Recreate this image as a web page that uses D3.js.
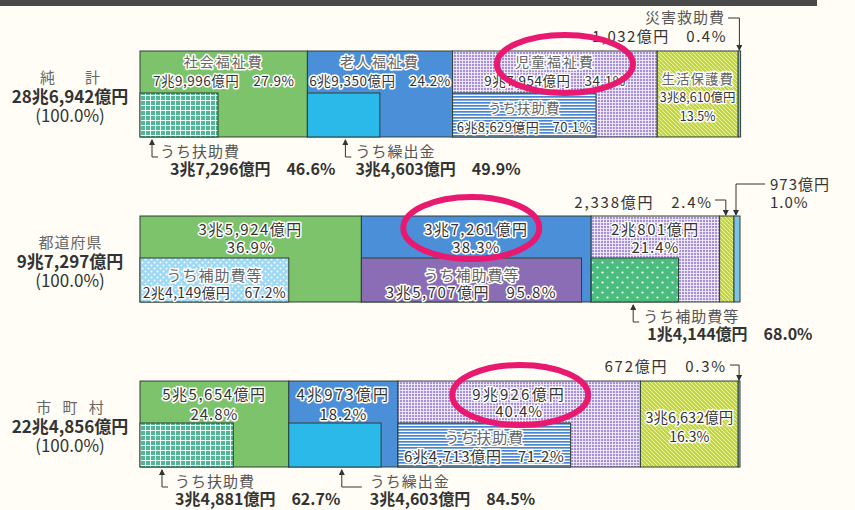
<!DOCTYPE html>
<html lang="ja">
<head>
<meta charset="utf-8">
<style>
  html, body { margin: 0; padding: 0; background: #fffdf5; }
  svg { display: block; }
  text { font-family: "Noto Sans CJK JP", "Noto Sans", sans-serif; }
  .halo { stroke: #fff; stroke-width: 3px; stroke-linejoin: round; paint-order: stroke; }
</style>
</head>
<body>
<svg id="chart" width="855" height="510"></svg>
<script src="https://cdn.jsdelivr.net/npm/d3@7/dist/d3.min.js"></script>
<script>
// --- data ---
const areaNames = ["純　　計", "都道府県", "市 町 村"]
const areaTotals = ["28兆6,942億円", "9兆7,297億円", "22兆4,856億円"]
const categories = ["社会福祉費", "老人福祉費", "児童福祉費", "生活保護費", "災害救助費"]
const sharePct = [
  [27.9, 24.2, 34.1, 13.5, 0.4],
  [36.9, 38.3, 21.4, 2.4, 1.0],
  [24.8, 18.2, 40.4, 16.3, 0.3]
]
const amounts = [
  ["7兆9,996億円", "6兆9,350億円", "9兆7,954億円", "3兆8,610億円", "1,032億円"],
  ["3兆5,924億円", "3兆7,261億円", "2兆801億円", "2,338億円", "973億円"],
  ["5兆5,654億円", "4兆973億円", "9兆926億円", "3兆6,632億円", "672億円"]
]
const subNames = [
  ["うち扶助費", "うち繰出金", "うち扶助費"],
  ["うち補助費等", "うち補助費等", "うち補助費等"],
  ["うち扶助費", "うち繰出金", "うち扶助費"]
]
const subPct = [
  [46.6, 49.9, 70.1],
  [67.2, 95.8, 68.0],
  [62.7, 84.5, 71.2]
]
const subAmounts = [
  ["3兆7,296億円", "3兆4,603億円", "6兆8,629億円"],
  ["2兆4,149億円", "3兆5,707億円", "1兆4,144億円"],
  ["3兆4,881億円", "3兆4,603億円", "6兆4,713億円"]
]
const fmtPct = d => d.toFixed(1) + "%"

// --- styles ---
const catFill = ["#7cc36b", "#4a8fd8", "url(#lavGrid)", "url(#yellowHatch)", "#7cc4e6"]
const subFill = [
  ["url(#tealGrid)", "#2bb9e9", "url(#blueStripe)"],
  ["url(#blueDots)", "#8a6db5", "url(#greenDots)"],
  ["url(#tealGrid)", "#2bb9e9", "url(#blueStripe)"]
]
const edge = "#2e4036"

const svg = d3.select("#chart")
const defs = svg.append("defs")

function pattern (id, w, h, bg, draw) {
  const p = defs.append("pattern")
    .attr("id", id)
    .attr("patternUnits", "userSpaceOnUse")
    .attr("width", w)
    .attr("height", h)
  p.append("rect").attr("width", w).attr("height", h).attr("fill", bg)
  draw(p)
}
pattern("tealGrid", 5, 5, "#52b596", p => p.append("path")
  .attr("d", "M0,0.5H5M0.5,0V5").attr("stroke", "#eafff8").attr("stroke-width", 1))
pattern("lavGrid", 3, 3, "#a98fd8", p => p.append("path")
  .attr("d", "M0,0.5H3M0.5,0V3").attr("stroke", "#f1ecfa").attr("stroke-width", 0.9))
pattern("blueStripe", 3, 3, "#ffffff", p => p.append("rect")
  .attr("width", 3).attr("height", 1.7).attr("fill", "#4a86cf"))
pattern("yellowHatch", 4, 4, "#c2d835", p => p.append("path")
  .attr("d", "M-1,-1L5,5M-1,3L1,5M3,-1L5,1").attr("stroke", "#eaf3a8").attr("stroke-width", 1))
pattern("blueDots", 6, 6, "#9fd8f4", p => {
  p.append("circle").attr("cx", 1.5).attr("cy", 1.5).attr("r", 1).attr("fill", "#fff")
  p.append("circle").attr("cx", 4.5).attr("cy", 4.5).attr("r", 1).attr("fill", "#fff")
})
pattern("greenDots", 10, 10, "#4bbd7e", p => {
  p.append("circle").attr("cx", 2.5).attr("cy", 2.5).attr("r", 1.1).attr("fill", "#fff")
  p.append("circle").attr("cx", 7.5).attr("cy", 7.5).attr("r", 1.1).attr("fill", "#fff")
})

defs.append("marker")
  .attr("id", "arrow")
  .attr("markerUnits", "userSpaceOnUse")
  .attr("markerWidth", 6).attr("markerHeight", 6)
  .attr("refX", 5).attr("refY", 3)
  .attr("orient", "auto")
  .append("path").attr("d", "M0,0L6,3L0,6Z").attr("fill", "#333")

// top rule
svg.append("rect").attr("x", 0).attr("y", 0).attr("width", 817).attr("height", 6).attr("fill", "#484848")

const x = d3.scaleLinear().domain([0, 100]).range([140, 740])
const y = d3.scaleBand().domain(areaNames).range([51, 467]).paddingInner(0.479)
const topH = 42

function txt (sel, tx, ty, s, o = {}) {
  return sel.append("text")
    .attr("x", tx).attr("y", ty).attr("dy", "0.35em")
    .attr("text-anchor", o.anchor || "middle")
    .attr("font-size", o.size || 13)
    .attr("font-weight", o.weight || "normal")
    .attr("letter-spacing", o.ls || 0)
    .attr("fill", o.fill || "#333")
    .attr("class", o.halo === false ? null : "halo")
    .text(s)
}

function line (sel, d) {
  return sel.append("path").attr("d", d).attr("fill", "none")
    .attr("stroke", "#333").attr("stroke-width", 1).attr("marker-end", "url(#arrow)")
}

// where each row puts its labels (layout only)
const below = [
  { 0: { ax: 12, hx: 6, tx: 20, ax2: 30 }, 1: { ax: 38, hx: 6, tx: 48, ax2: 48 } },
  { 2: { ax: 42, hx: 6, tx: 52, ax2: 56 } },
  { 0: { ax: 22, hx: 6, tx: 35, ax2: 35 }, 1: { ax: 53, hx: 20, tx: 81, ax2: 81 } }
]
const nameSpacing = [0, 1, 4]
const ringOff = [[10, 13], [-5, 12], [1, 14]]
const ringR = [[68, 29], [68, 31], [68, 30]]

areaNames.forEach((area, i) => {
  const g = svg.append("g")
  const y0 = y(area)
  const h = y.bandwidth()
  const shares = sharePct[i]
  const starts = shares.map((d, k) => d3.sum(shares.slice(0, k)))
  const segs = shares.map((d, k) => ({ k, s: starts[k], e: starts[k] + d, v: d }))

  // left labels
  txt(g, 70 + nameSpacing[i] / 2, y0 + 27, area, { size: 15, ls: nameSpacing[i], fill: "#666", halo: false })
  txt(g, 70, y0 + 46, areaTotals[i], { size: 17, weight: "bold", fill: "#333", halo: false })
  txt(g, 70, y0 + 65, "(100.0%)", { size: 17, fill: "#333", halo: false })

  g.selectAll("rect.seg").data(segs).join("rect")
    .attr("class", "seg")
    .attr("x", d => x(d.s))
    .attr("y", y0)
    .attr("width", d => x(d.e) - x(d.s))
    .attr("height", h)
    .attr("fill", d => catFill[d.k])
    .attr("stroke", edge).attr("stroke-width", 1)

  const subs = subPct[i].map((p, k) => ({ k, s: starts[k], e: starts[k] + shares[k] * p / 100, p }))
  g.selectAll("rect.sub").data(subs).join("rect")
    .attr("class", "sub")
    .attr("x", d => x(d.s))
    .attr("y", y0 + topH)
    .attr("width", d => x(d.e) - x(d.s))
    .attr("height", h - topH)
    .attr("fill", d => subFill[i][d.k])
    .attr("stroke", edge).attr("stroke-width", 1)

  const cx = k => (x(segs[k].s) + x(segs[k].e)) / 2
  const sx = k => (x(subs[k].s) + x(subs[k].e)) / 2
  const x4 = cx(4)

  if (i === 0) {
    for (let k = 0; k < 3; k++) {
      txt(g, cx(k), y0 + 11, categories[k], { size: 14, ls: 2, fill: "#666" })
      txt(g, cx(k), y0 + 30, amounts[i][k] + "　" + fmtPct(shares[k]), { size: 13.5, ls: 0.5 })
    }
    txt(g, cx(3), y0 + 28, categories[3], { size: 13.5, ls: 1, fill: "#666" })
    txt(g, cx(3), y0 + 47, amounts[i][3], { size: 12.5 })
    txt(g, cx(3), y0 + 66, fmtPct(shares[3]), { size: 12.5 })
    txt(g, 725, y0 - 33, categories[4] + " ", { size: 15, ls: 1, fill: "#555", anchor: "end", halo: false })
    txt(g, 727, y0 - 14, amounts[i][4] + "　" + fmtPct(shares[4]), { size: 15, ls: 1.5, anchor: "end", halo: false })
    line(g, `M728,${y0 - 33}H${x4}V${y0 - 1}`)
    txt(g, sx(2), y0 + 57, subNames[i][2], { size: 13.5, ls: 1, fill: "#666" })
    txt(g, sx(2), y0 + 76, subAmounts[i][2] + "　" + fmtPct(subPct[i][2]), { size: 13, ls: 0.4 })
  } else if (i === 1) {
    for (let k = 0; k < 3; k++) {
      txt(g, cx(k), y0 + 14, amounts[i][k], { size: 15, ls: 1.5 })
      txt(g, cx(k), y0 + 32, fmtPct(shares[k]), { size: 15, ls: 1 })
    }
    txt(g, 713, y0 - 13, amounts[i][3] + "　" + fmtPct(shares[3]), { size: 15, ls: 1.8, anchor: "end", halo: false })
    line(g, `M715,${y0 - 16}H${cx(3) - 1}V${y0 - 1}`)
    txt(g, 770, y0 - 31, amounts[i][4], { size: 15, ls: 1, anchor: "start", halo: false })
    txt(g, 770, y0 - 13, fmtPct(shares[4]), { size: 15, ls: 1, anchor: "start", halo: false })
    g.append("path").attr("d", `M765,${y0 - 32}H${x4 - 1}V${y0 - 1}`).attr("fill", "none")
      .attr("stroke", "#333").attr("marker-end", "url(#arrow)")
    for (let k = 0; k < 2; k++) {
      txt(g, sx(k), y0 + 60, subNames[i][k], { size: 15, ls: 1, fill: "#666" })
      txt(g, sx(k), y0 + 77, subAmounts[i][k] + "　" + fmtPct(subPct[i][k]),
        { size: k === 0 ? 14 : 15, ls: k === 0 ? 0.3 : 1.5 })
    }
  } else {
    for (let k = 0; k < 3; k++) {
      txt(g, cx(k), y0 + 14, amounts[i][k], { size: 15, ls: k === 0 ? 1.5 : 2.2 })
      txt(g, cx(k), y0 + (k === 2 ? 31 : 34), fmtPct(shares[k]), { size: 15, ls: 1 })
    }
    txt(g, cx(3), y0 + 37, amounts[i][3], { size: 14.5 })
    txt(g, cx(3), y0 + 56, fmtPct(shares[3]), { size: 14 })
    txt(g, 727, y0 - 14, amounts[i][4] + "　" + fmtPct(shares[4]), { size: 15, ls: 1.8, anchor: "end", halo: false })
    line(g, `M730,${y0 - 16}H${x4}V${y0 - 1}`)
    txt(g, sx(2), y0 + 57, subNames[i][2], { size: 15, ls: 1, fill: "#666" })
    txt(g, sx(2), y0 + 76, subAmounts[i][2] + "　" + fmtPct(subPct[i][2]), { size: 15, ls: 0.8 })
  }

  // labels hung below the bar with an L-shaped pointer
  Object.entries(below[i]).forEach(([k, b]) => {
    const s = x(subs[k].s)
    const ax = s + b.ax
    g.append("path")
      .attr("d", `M${ax + b.hx},${y0 + h + 20}H${ax}V${y0 + h + 3}`)
      .attr("fill", "none").attr("stroke", "#333").attr("marker-end", "url(#arrow)")
    txt(g, s + b.tx, y0 + h + 15, subNames[i][k], { size: 15, ls: 1, fill: "#555", anchor: "start", halo: false })
    txt(g, s + b.ax2, y0 + h + 32, subAmounts[i][k] + "　" + fmtPct(subPct[i][k]),
      { size: 16, weight: "bold", anchor: "start", halo: false })
  })

  // pink ring on the largest item of the row
  const m = d3.maxIndex(shares)
  g.append("ellipse")
    .attr("cx", cx(m) + ringOff[i][0])
    .attr("cy", y0 + ringOff[i][1])
    .attr("rx", ringR[i][0])
    .attr("ry", ringR[i][1])
    .attr("fill", "none")
    .attr("stroke", "#e8196f")
    .attr("stroke-width", 6)
})
</script>
</body>
</html>
